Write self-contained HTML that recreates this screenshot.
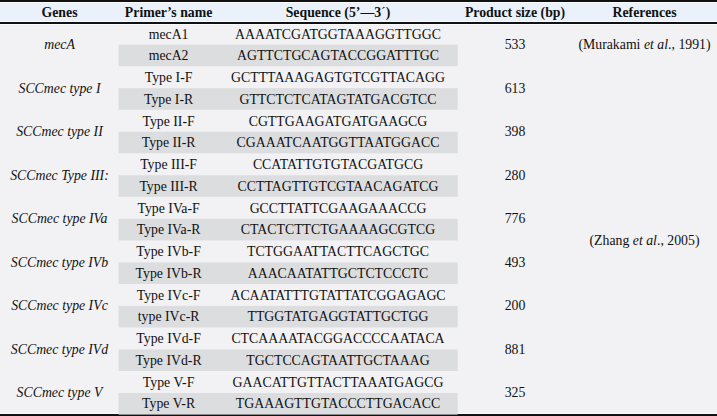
<!DOCTYPE html>
<html><head><meta charset="utf-8"><style>
html,body{margin:0;padding:0;}
body{width:717px;height:416px;overflow:hidden;position:relative;background:#f2f2f4;font-family:"Liberation Serif",serif;color:#111;}
.hd{position:absolute;left:0;top:0;width:717px;height:24px;background:#eaf1fa;}
.bt{position:absolute;left:0;top:0;width:717px;height:2px;background:#111;}
.bb{position:absolute;left:0;top:22px;width:717px;height:2px;background:#111;}
.bf{position:absolute;left:0;top:414px;width:717px;height:2px;background:#111;}
.w{position:absolute;left:0;width:717px;height:1px;background:#fafbfc;}
.g{position:absolute;left:119px;width:339px;background:#dcdddf;}
.t{position:absolute;width:300px;text-align:center;font-size:13.8px;line-height:21px;white-space:nowrap;}
.it{font-style:italic;}
.h{font-weight:bold;line-height:22px;}
</style></head><body>
<div class="hd"></div><div class="w" style="top:2px"></div><div class="w" style="top:21px"></div><div class="w" style="top:24px"></div><div class="w" style="top:413px"></div><div class="bt"></div><div class="bb"></div><div class="bf"></div>
<div class="t h" style="left:-90.5px;top:1.5px">Genes</div>
<div class="t h" style="left:18.6px;top:1.5px">Primer’s name</div>
<div class="t h" style="left:188.0px;top:1.5px">Sequence (5’—3<span style="font-weight:normal">´</span>)</div>
<div class="t h" style="left:365.0px;top:1.5px">Product size (bp)</div>
<div class="t h" style="left:494.5px;top:1.5px">References</div>
<svg style="position:absolute;left:0;top:0" width="717" height="416"><rect x="118.6" y="44.60" width="339.1" height="21.6" fill="#dcdddf"/><rect x="118.6" y="88.15" width="339.1" height="21.6" fill="#dcdddf"/><rect x="118.6" y="131.70" width="339.1" height="21.6" fill="#dcdddf"/><rect x="118.6" y="175.25" width="339.1" height="21.6" fill="#dcdddf"/><rect x="118.6" y="218.80" width="339.1" height="21.6" fill="#dcdddf"/><rect x="118.6" y="262.35" width="339.1" height="21.6" fill="#dcdddf"/><rect x="118.6" y="305.90" width="339.1" height="21.6" fill="#dcdddf"/><rect x="118.6" y="349.45" width="339.1" height="21.6" fill="#dcdddf"/><rect x="118.6" y="393.00" width="339.1" height="21.6" fill="#dcdddf"/></svg>
<div class="t " style="left:18.6px;top:23.5px">mecA1</div>
<div class="t " style="left:188.0px;top:23.5px">AAAATCGATGGTAAAGGTTGGC</div>
<div class="t " style="left:18.6px;top:45.0px">mecA2</div>
<div class="t " style="left:188.0px;top:45.0px">AGTTCTGCAGTACCGGATTTGC</div>
<div class="t " style="left:18.6px;top:67.0px">Type I-F</div>
<div class="t " style="left:188.0px;top:67.0px">GCTTTAAAGAGTGTCGTTACAGG</div>
<div class="t " style="left:18.6px;top:88.5px">Type I-R</div>
<div class="t " style="left:188.0px;top:88.5px">GTTCTCTCATAGTATGACGTCC</div>
<div class="t " style="left:18.6px;top:110.5px">Type II-F</div>
<div class="t " style="left:188.0px;top:110.5px">CGTTGAAGATGATGAAGCG</div>
<div class="t " style="left:18.6px;top:132.0px">Type II-R</div>
<div class="t " style="left:188.0px;top:132.0px">CGAAATCAATGGTTAATGGACC</div>
<div class="t " style="left:18.6px;top:154.0px">Type III-F</div>
<div class="t " style="left:188.0px;top:154.0px">CCATATTGTGTACGATGCG</div>
<div class="t " style="left:18.6px;top:175.5px">Type III-R</div>
<div class="t " style="left:188.0px;top:175.5px">CCTTAGTTGTCGTAACAGATCG</div>
<div class="t " style="left:18.6px;top:197.5px">Type IVa-F</div>
<div class="t " style="left:188.0px;top:197.5px">GCCTTATTCGAAGAAACCG</div>
<div class="t " style="left:18.6px;top:219.0px">Type IVa-R</div>
<div class="t " style="left:188.0px;top:219.0px">CTACTCTTCTGAAAAGCGTCG</div>
<div class="t " style="left:18.6px;top:241.0px">Type IVb-F</div>
<div class="t " style="left:188.0px;top:241.0px">TCTGGAATTACTTCAGCTGC</div>
<div class="t " style="left:18.6px;top:262.5px">Type IVb-R</div>
<div class="t " style="left:188.0px;top:262.5px">AAACAATATTGCTCTCCCTC</div>
<div class="t " style="left:18.6px;top:284.5px">Type IVc-F</div>
<div class="t " style="left:188.0px;top:284.5px">ACAATATTTGTATTATCGGAGAGC</div>
<div class="t " style="left:18.6px;top:306.0px">type IVc-R</div>
<div class="t " style="left:188.0px;top:306.0px">TTGGTATGAGGTATTGCTGG</div>
<div class="t " style="left:18.6px;top:328.0px">Type IVd-F</div>
<div class="t " style="left:188.0px;top:328.0px">CTCAAAATACGGACCCCAATACA</div>
<div class="t " style="left:18.6px;top:349.5px">Type IVd-R</div>
<div class="t " style="left:188.0px;top:349.5px">TGCTCCAGTAATTGCTAAAG</div>
<div class="t " style="left:18.6px;top:371.5px">Type V-F</div>
<div class="t " style="left:188.0px;top:371.5px">GAACATTGTTACTTAAATGAGCG</div>
<div class="t " style="left:18.6px;top:393.0px">Type V-R</div>
<div class="t " style="left:188.0px;top:393.0px">TGAAAGTTGTACCCTTGACACC</div>
<div class="t it" style="left:-90.5px;top:34.2px">mecA</div>
<div class="t " style="left:365.0px;top:34.2px">533</div>
<div class="t it" style="left:-90.5px;top:77.8px">SCCmec type I</div>
<div class="t " style="left:365.0px;top:77.8px">613</div>
<div class="t it" style="left:-90.5px;top:121.2px">SCCmec type II</div>
<div class="t " style="left:365.0px;top:121.2px">398</div>
<div class="t it" style="left:-90.5px;top:164.8px">SCCmec Type III:</div>
<div class="t " style="left:365.0px;top:164.8px">280</div>
<div class="t it" style="left:-90.5px;top:208.2px">SCCmec type IVa</div>
<div class="t " style="left:365.0px;top:208.2px">776</div>
<div class="t it" style="left:-90.5px;top:251.8px">SCCmec type IVb</div>
<div class="t " style="left:365.0px;top:251.8px">493</div>
<div class="t it" style="left:-90.5px;top:295.2px">SCCmec type IVc</div>
<div class="t " style="left:365.0px;top:295.2px">200</div>
<div class="t it" style="left:-90.5px;top:338.8px">SCCmec type IVd</div>
<div class="t " style="left:365.0px;top:338.8px">881</div>
<div class="t it" style="left:-90.5px;top:382.2px">SCCmec type V</div>
<div class="t " style="left:365.0px;top:382.2px">325</div>
<div class="t " style="left:494.5px;top:34.2px">(Murakami <i>et al</i>., 1991)</div>
<div class="t " style="left:494.5px;top:230.0px">(Zhang <i>et al</i>., 2005)</div>
</body></html>
